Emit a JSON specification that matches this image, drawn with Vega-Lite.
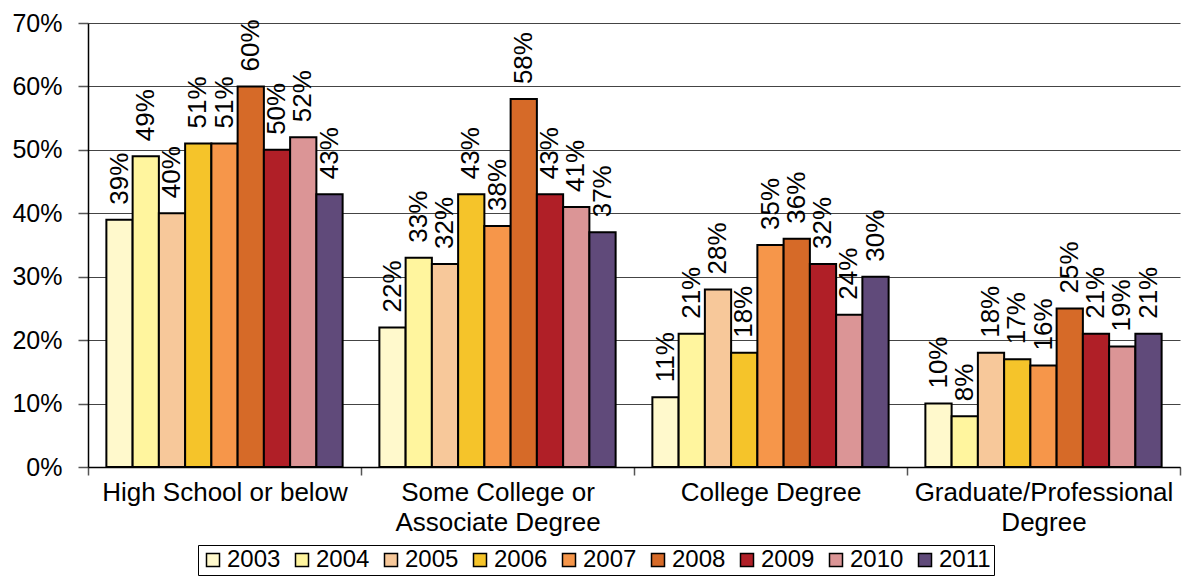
{
  "$schema": "https://vega.github.io/schema/vega-lite/v6.json",
  "width": 1092,
  "height": 444,
  "autosize": "none",
  "padding": {"left": 88, "top": 23, "right": 5, "bottom": 113},
  "background": "white",
  "config": {
    "font": "Liberation Sans",
    "view": {"stroke": null}
  },
  "data": {
    "values": [
      {"level": "High School or below", "year": "2003", "share": 0.39},
      {"level": "High School or below", "year": "2004", "share": 0.49},
      {"level": "High School or below", "year": "2005", "share": 0.40},
      {"level": "High School or below", "year": "2006", "share": 0.51},
      {"level": "High School or below", "year": "2007", "share": 0.51},
      {"level": "High School or below", "year": "2008", "share": 0.60},
      {"level": "High School or below", "year": "2009", "share": 0.50},
      {"level": "High School or below", "year": "2010", "share": 0.52},
      {"level": "High School or below", "year": "2011", "share": 0.43},
      {"level": "Some College or|Associate Degree", "year": "2003", "share": 0.22},
      {"level": "Some College or|Associate Degree", "year": "2004", "share": 0.33},
      {"level": "Some College or|Associate Degree", "year": "2005", "share": 0.32},
      {"level": "Some College or|Associate Degree", "year": "2006", "share": 0.43},
      {"level": "Some College or|Associate Degree", "year": "2007", "share": 0.38},
      {"level": "Some College or|Associate Degree", "year": "2008", "share": 0.58},
      {"level": "Some College or|Associate Degree", "year": "2009", "share": 0.43},
      {"level": "Some College or|Associate Degree", "year": "2010", "share": 0.41},
      {"level": "Some College or|Associate Degree", "year": "2011", "share": 0.37},
      {"level": "College Degree", "year": "2003", "share": 0.11},
      {"level": "College Degree", "year": "2004", "share": 0.21},
      {"level": "College Degree", "year": "2005", "share": 0.28},
      {"level": "College Degree", "year": "2006", "share": 0.18},
      {"level": "College Degree", "year": "2007", "share": 0.35},
      {"level": "College Degree", "year": "2008", "share": 0.36},
      {"level": "College Degree", "year": "2009", "share": 0.32},
      {"level": "College Degree", "year": "2010", "share": 0.24},
      {"level": "College Degree", "year": "2011", "share": 0.30},
      {"level": "Graduate/Professional|Degree", "year": "2003", "share": 0.10},
      {"level": "Graduate/Professional|Degree", "year": "2004", "share": 0.08},
      {"level": "Graduate/Professional|Degree", "year": "2005", "share": 0.18},
      {"level": "Graduate/Professional|Degree", "year": "2006", "share": 0.17},
      {"level": "Graduate/Professional|Degree", "year": "2007", "share": 0.16},
      {"level": "Graduate/Professional|Degree", "year": "2008", "share": 0.25},
      {"level": "Graduate/Professional|Degree", "year": "2009", "share": 0.21},
      {"level": "Graduate/Professional|Degree", "year": "2010", "share": 0.19},
      {"level": "Graduate/Professional|Degree", "year": "2011", "share": 0.21}
    ]
  },
  "encoding": {
    "x": {
      "field": "level",
      "type": "nominal",
      "sort": null,
      "scale": {"paddingInner": 0, "paddingOuter": 0},
      "axis": {
        "title": null,
        "labelAngle": 0,
        "labelExpr": "split(datum.label, '|')",
        "labelLimit": 0,
        "labelFontSize": 26,
        "labelColor": "black",
        "labelPadding": 4,
        "labelLineHeight": 30,
        "tickBand": "extent",
        "tickSize": 8,
        "tickColor": "#555",
        "tickWidth": 1.5,
        "domainColor": "black",
        "domainWidth": 1.5
      }
    },
    "xOffset": {
      "field": "year",
      "type": "nominal",
      "scale": {"paddingInner": 0, "paddingOuter": 0.7}
    },
    "y": {
      "field": "share",
      "type": "quantitative",
      "scale": {"domain": [0, 0.7]},
      "axis": {
        "title": null,
        "values": [0, 0.1, 0.2, 0.3, 0.4, 0.5, 0.6, 0.7],
        "format": ".0%",
        "labelFontSize": 25,
        "labelColor": "black",
        "labelPadding": 16,
        "tickSize": 10,
        "tickColor": "#555",
        "tickWidth": 1.5,
        "domainColor": "black",
        "domainWidth": 1.5,
        "grid": true,
        "gridColor": "#444",
        "gridWidth": 1.2
      }
    }
  },
  "layer": [
    {
      "mark": {"type": "bar", "stroke": "black", "strokeWidth": 2},
      "encoding": {
        "color": {
          "field": "year",
          "type": "nominal",
          "scale": {
            "domain": ["2003", "2004", "2005", "2006", "2007", "2008", "2009", "2010", "2011"],
            "range": ["#FFF9CC", "#FFF59E", "#F7C89A", "#F5C42A", "#F6964A", "#D66A28", "#B01F27", "#DB9596", "#604A7A"]
          },
          "legend": {
            "title": null,
            "orient": "none",
            "legendX": 110,
            "legendY": 522,
            "direction": "horizontal",
            "columns": 9,
            "strokeColor": "black",
            "padding": 3,
            "symbolType": "square",
            "symbolSize": 169,
            "symbolStrokeColor": "black",
            "symbolStrokeWidth": 1.5,
            "symbolOpacity": 1,
            "labelFontSize": 24,
            "labelColor": "black",
            "labelOffset": 2,
            "columnPadding": 9
          }
        }
      }
    },
    {
      "mark": {"type": "text", "angle": 270, "align": "left", "baseline": "middle", "dx": 15, "fontSize": 26, "color": "black"},
      "encoding": {
        "text": {"field": "share", "type": "quantitative", "format": ".0%"}
      }
    }
  ]
}
